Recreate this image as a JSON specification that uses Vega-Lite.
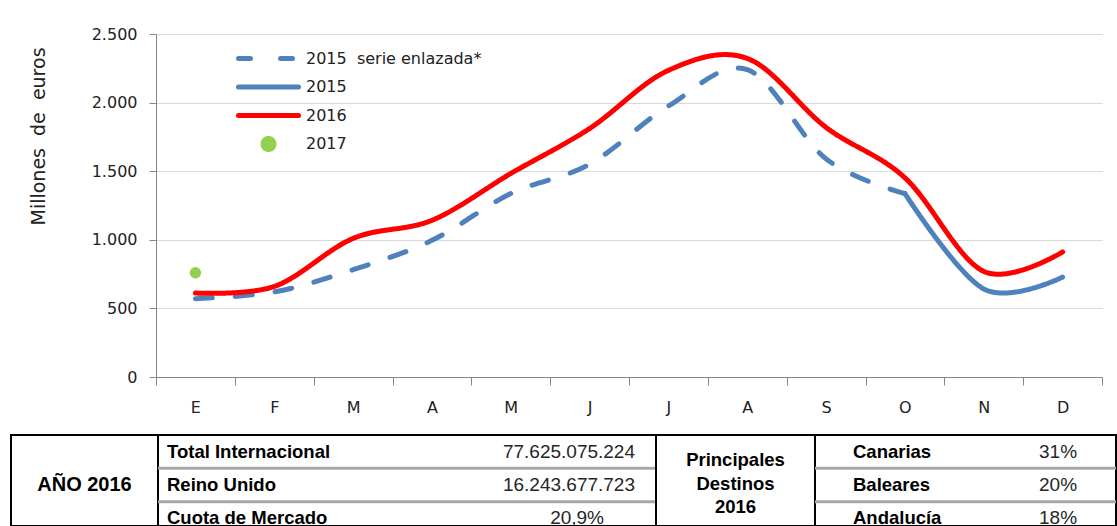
{
  "$schema": "https://vega.github.io/schema/vega-lite/v6.json",
  "padding": {"left": 10, "top": 26, "right": 0, "bottom": 0},
  "background": "white",
  "config": {"view": {"stroke": null}},
  "spacing": 19,
  "vconcat": [
    {
      "spacing": 17,
      "hconcat": [
        {
          "width": 1, "height": 1,
          "data": {"values": []},
          "mark": {"type": "point", "opacity": 0},
          "encoding": {}
        },
        {
          "width": 946,
          "height": 343,
          "data": {"values": [
            {"mes": 1, "serie": "2015\u00a0 serie enlazada*", "valor": 571},
            {"mes": 2, "serie": "2015\u00a0 serie enlazada*", "valor": 620},
            {"mes": 3, "serie": "2015\u00a0 serie enlazada*", "valor": 782},
            {"mes": 4, "serie": "2015\u00a0 serie enlazada*", "valor": 996},
            {"mes": 5, "serie": "2015\u00a0 serie enlazada*", "valor": 1337},
            {"mes": 6, "serie": "2015\u00a0 serie enlazada*", "valor": 1551},
            {"mes": 7, "serie": "2015\u00a0 serie enlazada*", "valor": 1975},
            {"mes": 8, "serie": "2015\u00a0 serie enlazada*", "valor": 2240},
            {"mes": 9, "serie": "2015\u00a0 serie enlazada*", "valor": 1590},
            {"mes": 10, "serie": "2015\u00a0 serie enlazada*", "valor": 1337},
            {"mes": 10, "serie": "2015", "valor": 1337},
            {"mes": 11, "serie": "2015", "valor": 642},
            {"mes": 12, "serie": "2015", "valor": 728},
            {"mes": 1, "serie": "2016", "valor": 612},
            {"mes": 2, "serie": "2016", "valor": 660},
            {"mes": 3, "serie": "2016", "valor": 1010},
            {"mes": 4, "serie": "2016", "valor": 1142},
            {"mes": 5, "serie": "2016", "valor": 1483},
            {"mes": 6, "serie": "2016", "valor": 1811},
            {"mes": 7, "serie": "2016", "valor": 2235},
            {"mes": 8, "serie": "2016", "valor": 2322},
            {"mes": 9, "serie": "2016", "valor": 1819},
            {"mes": 10, "serie": "2016", "valor": 1452},
            {"mes": 11, "serie": "2016", "valor": 770},
            {"mes": 12, "serie": "2016", "valor": 911},
            {"mes": 1, "serie": "2017", "valor": 760}
          ]},
          "layer": [
            {
              "transform": [{"filter": "datum.serie !== '2017'"}],
              "mark": {"type": "line", "strokeWidth": 5, "strokeCap": "round", "strokeJoin": "round", "interpolate": "cardinal", "tension": 0},
              "encoding": {
                "x": {
                  "field": "mes", "type": "ordinal",
                  "scale": {"type": "band", "paddingInner": 0, "paddingOuter": 0},
                  "axis": {
                    "title": null,
                    "labelExpr": "['E','F','M','A','M','J','J','A','S','O','N','D'][datum.value-1]",
                    "labelAngle": 0, "tickBand": "extent", "tickSize": 8,
                    "tickColor": "#868686", "domainColor": "#868686",
                    "labelPadding": 14, "labelFont": "DejaVu Sans", "labelFontSize": 16, "labelColor": "#222", "grid": false
                  }
                },
                "y": {
                  "field": "valor", "type": "quantitative",
                  "scale": {"domain": [0, 2500], "nice": false},
                  "axis": {
                    "title": "Millones\u00a0 de\u00a0 euros",
                    "titleFont": "DejaVu Sans", "titleFontSize": 19, "titleFontWeight": "normal", "titleColor": "#222",
                    "titleY": 102, "titlePadding": 43,
                    "values": [0, 500, 1000, 1500, 2000, 2500],
                    "labelExpr": "datum.value >= 1000 ? replace(format(datum.value, ','), ',', '.') : format(datum.value, 'd')",
                    "labelFont": "DejaVu Sans", "labelFontSize": 16, "labelColor": "#222", "labelPadding": 12,
                    "tickSize": 7, "tickColor": "#868686", "domainColor": "#868686",
                    "grid": true, "gridColor": "#d9d9d9"
                  }
                },
                "color": {
                  "field": "serie", "type": "nominal",
                  "scale": {"domain": ["2015\u00a0 serie enlazada*", "2015", "2016", "2017"], "range": ["#4f81bd", "#4f81bd", "#ff0000", "#92d050"]},
                  "legend": {
                    "orient": "none", "legendX": 225, "legendY": 11, "title": null, "padding": 0,
                    "symbolSize": 3600, "clipHeight": 27, "rowPadding": 1.5, "labelOffset": 5, "symbolStrokeWidth": 5,
                    "labelFont": "DejaVu Sans", "labelFontSize": 16, "labelColor": "#222", "labelLimit": 300,
                    "encode": {
                      "symbols": {
                        "update": {
                          "shape": {"signal": "datum.value === '2017' ? 'circle' : 'stroke'"},
                          "size": {"signal": "datum.value === '2017' ? 120 : 3600"},
                          "fill": {"signal": "datum.value === '2017' ? '#92d050' : 'transparent'"},
                          "stroke": {"signal": "datum.value === '2017' ? 'transparent' : (datum.value === '2016' ? '#ff0000' : '#4f81bd')"},
                          "strokeDash": {"signal": "indexof(datum.value, 'serie') >= 0 ? [12, 30] : [1, 0]"},
                          "strokeWidth": {"value": 5},
                          "strokeCap": {"value": "round"},
                          "opacity": {"value": 1}
                        }
                      }
                    }
                  }
                },
                "strokeDash": {
                  "field": "serie", "type": "nominal",
                  "scale": {"domain": ["2015\u00a0 serie enlazada*", "2015", "2016"], "range": [[17, 23], [1, 0], [1, 0]]},
                  "legend": null
                }
              }
            },
            {
              "transform": [{"filter": "datum.serie === '2017'"}],
              "mark": {"type": "point", "filled": true, "size": 130, "opacity": 1},
              "encoding": {
                "x": {"field": "mes", "type": "ordinal"},
                "y": {"field": "valor", "type": "quantitative"},
                "color": {"field": "serie", "type": "nominal"}
              }
            }
          ]
        }
      ]
    },
    {
      "spacing": 0,
      "bounds": "flush",
      "hconcat": [
        {
          "width": 147, "height": 91,
          "view": {"stroke": "#000", "strokeWidth": 2},
          "data": {"values": [{"t": "AÑO 2016"}]},
          "mark": {"type": "text", "font": "Liberation Sans", "fontWeight": "bold", "fontSize": 20, "color": "#000", "dy": 4},
          "encoding": {"text": {"field": "t", "type": "nominal"}}
        },
        {
          "width": 498, "height": 91,
          "view": {"stroke": "#000", "strokeWidth": 2},
          "data": {"values": [
            {"row": 1, "label": "Total Internacional", "value": "77.625.075.224", "kind": "num"},
            {"row": 2, "label": "Reino Unido", "value": "16.243.677.723", "kind": "num"},
            {"row": 3, "label": "Cuota de Mercado", "value": "20,9%", "kind": "pct"}
          ]},
          "layer": [
            {
              "transform": [{"filter": "datum.row > 1"}],
              "mark": {"type": "rule", "color": "#a6a6a6", "strokeWidth": 3},
              "encoding": {
                "y": {"field": "row", "type": "ordinal", "bandPosition": 0, "scale": {"type": "band", "range": [0, 100], "paddingInner": 0, "paddingOuter": 0}, "axis": null}
              }
            },
            {
              "mark": {"type": "text", "font": "Liberation Sans", "fontWeight": "bold", "fontSize": 18.5, "color": "#000", "align": "left", "dx": 9},
              "encoding": {
                "x": {"datum": "l", "type": "nominal", "bandPosition": 0, "scale": {"type": "band", "domain": ["l", "v"], "paddingInner": 0, "paddingOuter": 0}, "axis": null},
                "y": {"field": "row", "type": "ordinal", "axis": null},
                "text": {"field": "label", "type": "nominal"}
              }
            },
            {
              "transform": [{"filter": "datum.kind === 'num'"}],
              "mark": {"type": "text", "font": "Liberation Sans", "fontSize": 19, "color": "#262626", "align": "right", "dx": -21},
              "encoding": {
                "x": {"datum": "v", "type": "nominal", "bandPosition": 1},
                "y": {"field": "row", "type": "ordinal", "axis": null},
                "text": {"field": "value", "type": "nominal"}
              }
            },
            {
              "transform": [{"filter": "datum.kind === 'pct'"}],
              "mark": {"type": "text", "font": "Liberation Sans", "fontSize": 19, "color": "#262626", "align": "center"},
              "encoding": {
                "x": {"datum": "v", "type": "nominal", "bandPosition": 0.683},
                "y": {"field": "row", "type": "ordinal", "axis": null},
                "text": {"field": "value", "type": "nominal"}
              }
            }
          ]
        },
        {
          "width": 159, "height": 91,
          "view": {"stroke": "#000", "strokeWidth": 2},
          "data": {"values": [{"t": "Principales\nDestinos\n2016"}]},
          "mark": {"type": "text", "font": "Liberation Sans", "fontWeight": "bold", "fontSize": 18.5, "color": "#000", "lineBreak": "\n", "lineHeight": 23.5, "dy": -20.5},
          "encoding": {"text": {"field": "t", "type": "nominal"}}
        },
        {
          "width": 301, "height": 91,
          "view": {"stroke": "#000", "strokeWidth": 2},
          "data": {"values": [
            {"row": 1, "name": "Canarias", "pct": "31%"},
            {"row": 2, "name": "Baleares", "pct": "20%"},
            {"row": 3, "name": "Andalucía", "pct": "18%"}
          ]},
          "layer": [
            {
              "transform": [{"filter": "datum.row > 1"}],
              "mark": {"type": "rule", "color": "#a6a6a6", "strokeWidth": 3},
              "encoding": {
                "y": {"field": "row", "type": "ordinal", "bandPosition": 0, "scale": {"type": "band", "range": [0, 100], "paddingInner": 0, "paddingOuter": 0}, "axis": null}
              }
            },
            {
              "mark": {"type": "text", "font": "Liberation Sans", "fontWeight": "bold", "fontSize": 18.5, "color": "#000", "align": "left", "dx": 38},
              "encoding": {
                "x": {"datum": "n", "type": "nominal", "bandPosition": 0, "scale": {"type": "band", "domain": ["n", "p"], "paddingInner": 0, "paddingOuter": 0}, "axis": null},
                "y": {"field": "row", "type": "ordinal", "axis": null},
                "text": {"field": "name", "type": "nominal"}
              }
            },
            {
              "mark": {"type": "text", "font": "Liberation Sans", "fontSize": 19, "color": "#262626", "align": "center"},
              "encoding": {
                "x": {"datum": "p", "type": "nominal", "bandPosition": 0.615},
                "y": {"field": "row", "type": "ordinal", "axis": null},
                "text": {"field": "pct", "type": "nominal"}
              }
            }
          ]
        }
      ]
    }
  ]
}
